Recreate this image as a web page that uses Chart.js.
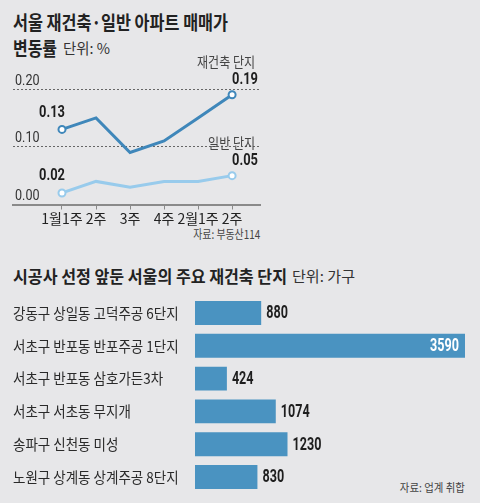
<!DOCTYPE html>
<html><head><meta charset="utf-8">
<script src="https://cdn.jsdelivr.net/npm/chart.js@4/dist/chart.umd.min.js"></script>
<style>
html,body{margin:0;padding:0;}
body{width:480px;height:503px;background:#e7e7e9;position:relative;overflow:hidden;font-family:"Noto Sans CJK KR",sans-serif;color:#222;}
.t{position:absolute;white-space:nowrap;}
.l{transform-origin:0 50%;}
.r{transform-origin:100% 50%;}
canvas{position:absolute;}
</style></head><body>
<div class="t l" data-w="215" style="left:13px;top:10px;font-size:19px;font-weight:bold;line-height:24px;">서울 재건축·일반 아파트 매매가</div>
<div class="t l" data-w="44" style="left:13px;top:36px;font-size:19px;font-weight:bold;line-height:24px;">변동률</div>
<div class="t l" data-w="47" style="left:63px;top:37px;font-size:15px;line-height:22px;color:#333">단위: %</div>
<div class="t r" data-w="67" style="right:220px;top:225px;font-size:12px;line-height:18px;color:#444">자료: 부동산114</div>
<div class="t l" data-w="274" style="left:13px;top:264px;font-size:17px;font-weight:bold;line-height:24px;">시공사 선정 앞둔 서울의 주요 재건축 단지</div>
<div class="t l" data-w="63" style="left:292px;top:265px;font-size:15px;line-height:22px;color:#333">단위: 가구</div>
<div class="t r" data-w="65" style="right:15px;top:478px;font-size:11.5px;line-height:18px;color:#444">자료: 업계 취합</div>
<canvas id="line" width="275" height="185" style="left:0;top:45px;width:275px;height:185px"></canvas>
<canvas id="bar" width="480" height="213" style="left:0;top:290px;width:480px;height:213px"></canvas>
<script>
const weeks = ['1월1주','2주','3주','4주','2월1주','2주'];
const rebuild = [0.13,0.15,0.09,0.11,0.15,0.19];
const general = [0.02,0.04,0.03,0.04,0.04,0.05];
const seriesNames = ['재건축 단지','일반 단지'];
const yTicks = [0, 0.1, 0.2];
const complexes = ['강동구 상일동 고덕주공 6단지','서초구 반포동 반포주공 1단지','서초구 반포동 삼호가든3차','서초구 서초동 무지개','송파구 신천동 미성','노원구 상계동 상계주공 8단지'];
const households = [880,3590,424,1074,1230,830];

document.querySelectorAll('[data-w]').forEach(el=>{
  const w = el.getBoundingClientRect().width;
  el.style.transform = 'scaleX(' + (parseFloat(el.dataset.w)/w) + ')';
});

const NUM = 'Roboto,"Liberation Sans",sans-serif';
const KR = '"Noto Sans CJK KR",sans-serif';
const DARK = '#3f87ba', LIGHT = '#98cbec', BAR = '#4a93c1';

function txt(ctx, s, x, y, align, sx){
  ctx.save();
  ctx.translate(x, y);
  ctx.scale(sx, 1);
  ctx.textAlign = align;
  ctx.fillText(s, 0, 0);
  ctx.restore();
}

const seriesVals = [rebuild, general];
const lineAnnot = {
  id:'lineAnnot',
  afterDraw(chart){
    const ctx = chart.ctx;
    ctx.save();
    ctx.textBaseline = 'middle';
    const ys = chart.scales.y;
    ctx.font = '14px ' + NUM;
    ctx.fillStyle = '#333';
    yTicks.forEach(v=>{ txt(ctx, v.toFixed(2), chart.chartArea.left + 2, ys.getPixelForValue(v) - 8, 'left', 0.9); });
    chart.data.datasets.forEach((ds,d)=>{
      const meta = chart.getDatasetMeta(d);
      const vals = seriesVals[d];
      const n = vals.length;
      const f = meta.data[0], l = meta.data[n-1];
      ctx.fillStyle = '#1e1e1e';
      ctx.font = 'bold 16.5px ' + NUM;
      txt(ctx, vals[0].toFixed(2), f.x + 3, f.y - 17, 'right', 0.78);
      txt(ctx, vals[n-1].toFixed(2), l.x, l.y - 15, 'left', 0.78);
      ctx.font = '14px ' + KR;
      ctx.fillStyle = '#444';
      txt(ctx, seriesNames[d], l.x + 23, l.y - 33, 'right', 0.86);
    });
    ctx.restore();
  }
};
const endPts = (arr)=> (c)=> (c.dataIndex===0 || c.dataIndex===arr.length-1) ? 3.5 : 0;

new Chart(document.getElementById('line'), {
  type:'line',
  data:{datasets:[
    {label:seriesNames[0], data: rebuild.map((v,i)=>({x:i,y:v})), borderColor:DARK, borderWidth:3, pointRadius:endPts(rebuild), pointHoverRadius:0, pointBackgroundColor:'#fff', pointBorderColor:DARK, pointBorderWidth:2, tension:0},
    {label:seriesNames[1], data: general.map((v,i)=>({x:i,y:v})), borderColor:LIGHT, borderWidth:3, pointRadius:endPts(general), pointHoverRadius:0, pointBackgroundColor:'#fff', pointBorderColor:LIGHT, pointBorderWidth:2, tension:0}
  ]},
  options:{
    responsive:false, animation:false, events:[],
    layout:{padding:{left:13,right:15,top:26.7,bottom:0}},
    plugins:{legend:{display:false}, tooltip:{enabled:false}},
    scales:{
      x:{type:'linear', min:-1.44, max:5.82,
        afterBuildTicks:s=>{ s.ticks = weeks.map((w,i)=>({value:i})); },
        afterFit:s=>{ s.height = 25.5; },
        grid:{drawOnChartArea:false, drawTicks:true, tickLength:5, color:'#8a8a8a', lineWidth:1},
        border:{display:true, color:'#8a8a8a', width:2},
        ticks:{callback:(v)=>weeks[v], font:{family:KR, size:14}, color:'#222', padding:1, maxRotation:0, autoSkip:false}
      },
      y:{min:0, max:0.23,
        afterBuildTicks:s=>{ s.ticks = yTicks.map(v=>({value:v})); },
        afterFit:s=>{ s.width = 0; },
        grid:{color:'#666', lineWidth:1, drawTicks:false},
        border:{display:false, dash:[2,2]},
        ticks:{display:false}
      }
    }
  },
  plugins:[lineAnnot]
});

const barLabels = {
  id:'barLabels',
  afterDatasetsDraw(chart){
    const ctx = chart.ctx;
    const meta = chart.getDatasetMeta(0);
    const sx = 0.72;
    ctx.save();
    ctx.textBaseline = 'middle';
    meta.data.forEach((el,i)=>{
      // category label
      ctx.font = '15px ' + KR;
      ctx.fillStyle = '#2a2a2a';
      txt(ctx, complexes[i], 13, el.y, 'left', 0.9);
      // value label
      ctx.font = 'bold 17.5px ' + NUM;
      const s = String(households[i]);
      const w = ctx.measureText(s).width * sx;
      if (el.x + 5 + w > chart.chartArea.right) {
        ctx.fillStyle = '#fff';
        txt(ctx, s, el.x - 6, el.y + 1, 'right', sx);
      } else {
        ctx.fillStyle = '#1e1e1e';
        txt(ctx, s, el.x + 5, el.y + 1, 'left', sx);
      }
    });
    ctx.restore();
  }
};

new Chart(document.getElementById('bar'), {
  type:'bar',
  data:{labels:complexes, datasets:[{data:households, backgroundColor:BAR, barPercentage:0.73, categoryPercentage:1}]},
  options:{
    indexAxis:'y', responsive:false, animation:false, events:[],
    layout:{padding:{left:13,right:5,top:6.6,bottom:9.6}},
    plugins:{legend:{display:false}, tooltip:{enabled:false}},
    scales:{
      x:{display:false, min:0, max:3723},
      y:{afterFit:s=>{ s.width = 182; }, grid:{display:false}, border:{display:false},
        ticks:{display:false}}
    }
  },
  plugins:[barLabels]
});
</script>
</body></html>
